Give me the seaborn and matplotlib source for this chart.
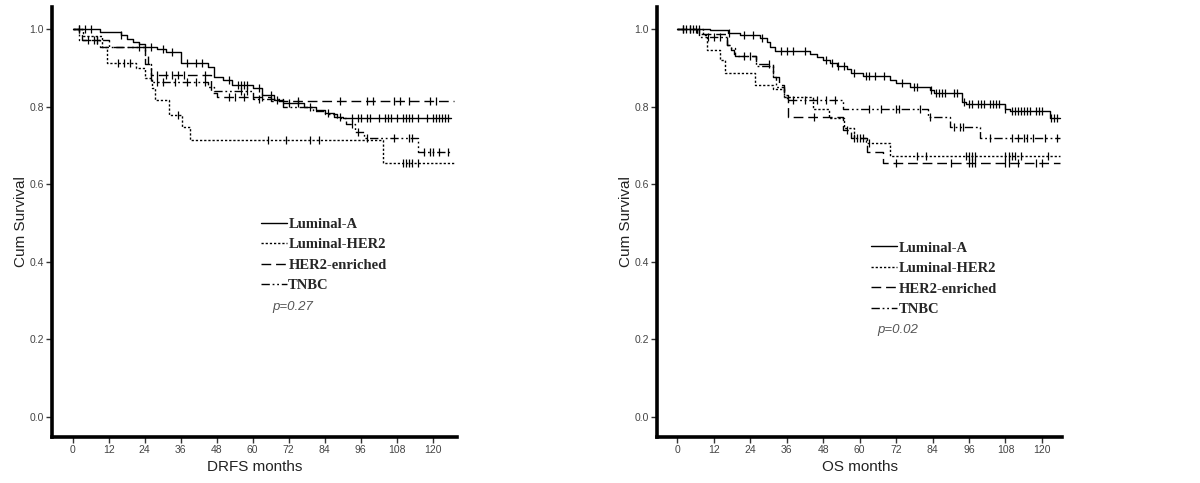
import numpy as np
import pandas as pd
import matplotlib
matplotlib.use("Agg")
import matplotlib.pyplot as plt
import seaborn as sns
from matplotlib.lines import Line2D

groups = ["Luminal-A", "Luminal-HER2", "HER2-enriched", "TNBC"]

# ---- DRFS (left panel): step times, survival after each step, censor times
drfs_lumA_t = [0, 9, 16, 18, 20, 22, 24, 28, 31, 36, 45, 47, 50, 53, 60, 63, 67, 70, 77, 81, 84, 87, 90]
drfs_lumA_s = [1.0, 0.992, 0.985, 0.975, 0.968, 0.962, 0.955, 0.948, 0.94, 0.912, 0.903, 0.877, 0.869,
               0.856, 0.847, 0.83, 0.817, 0.809, 0.80, 0.791, 0.783, 0.774, 0.770]
drfs_lumA_c = [2, 4, 6, 16, 26, 30, 33, 38, 41, 43, 52, 55, 56, 57, 58, 62, 66, 68, 72, 75, 79, 85, 89, 93,
               95, 96, 98, 99, 102, 104, 105, 106, 108, 110, 111, 112, 113, 115, 118, 120, 121, 122, 123, 124, 125]

drfs_lumH_t = [0, 3.5, 9.7, 11.3, 21, 24, 26.4, 27.4, 32, 36.3, 39, 103.4]
drfs_lumH_s = [1.0, 0.981, 0.955, 0.912, 0.90, 0.874, 0.847, 0.817, 0.779, 0.748, 0.714, 0.654]
drfs_lumH_c = [15, 17, 19, 35, 65, 71, 79, 82, 110, 111, 112, 113, 115]

drfs_her2_t = [0, 3, 9, 24, 25, 26, 46, 48, 66]
drfs_her2_s = [1.0, 0.972, 0.955, 0.93, 0.91, 0.882, 0.835, 0.826, 0.815]
drfs_her2_c = [2, 8, 22, 28, 31, 33, 35, 37, 44, 52, 54, 57, 63, 75, 89, 98, 100, 107, 109, 112, 119, 121]

drfs_tnbc_t = [0, 2, 12, 24, 26, 45, 47, 60, 70, 80, 84, 88, 91, 94, 97, 115]
drfs_tnbc_s = [1.0, 0.972, 0.955, 0.91, 0.864, 0.85, 0.84, 0.82, 0.80, 0.79, 0.78, 0.77, 0.755, 0.735,
               0.72, 0.682]
drfs_tnbc_c = [5, 7, 8, 28, 30, 34, 38, 41, 44, 56, 58, 62, 93, 95, 98, 107, 112, 113, 117, 119, 120, 122, 125]

drfs_end = [126, 127, 127, 126]

# ---- OS (right panel)
os_lumA_t = [0, 10.8, 16.8, 20.5, 27.2, 29.4, 30.5, 32.2, 43.7, 45.9, 48, 50.2, 52.5, 55.8, 57, 61.2, 70,
             72, 76.6, 83.2, 84.5, 93.6, 95, 107.9, 109.5, 122.7]
os_lumA_s = [1.0, 0.997, 0.99, 0.984, 0.976, 0.967, 0.954, 0.944, 0.937, 0.929, 0.92, 0.913, 0.905, 0.896,
             0.887, 0.879, 0.868, 0.860, 0.851, 0.843, 0.834, 0.8125, 0.806, 0.795, 0.79, 0.77]
os_lumA_c = [2, 4, 6, 17, 22, 25, 28, 34, 36, 38, 42, 49, 51, 53, 55, 58, 62, 63, 65, 68, 74, 78, 79, 83.5,
             85, 86, 87, 88, 91, 92, 94.5, 96, 97, 99, 100, 101, 103, 104, 105, 106, 108, 110, 111, 112,
             113, 114, 115, 116, 118, 119, 120, 123, 124, 125]

os_lumH_t = [0, 8.6, 9.7, 14, 15.7, 25.6, 31.5, 35, 44.7, 50, 55, 58, 62, 70]
os_lumH_s = [1.0, 0.985, 0.946, 0.92, 0.886, 0.856, 0.845, 0.826, 0.795, 0.77, 0.745, 0.72, 0.705, 0.672]
os_lumH_c = [7, 60, 63, 79, 82, 95, 96, 97, 98, 108, 109, 110, 111, 113, 122]

os_her2_t = [0, 6.4, 16.3, 17.5, 18.5, 19.8, 26, 31.6, 33.3, 35, 36.5, 54.6, 57, 62.4, 67.8]
os_her2_s = [1.0, 0.987, 0.96, 0.945, 0.937, 0.93, 0.911, 0.877, 0.856, 0.83, 0.774, 0.74, 0.718, 0.684, 0.654]
os_her2_c = [2, 4, 5, 22, 24, 30, 45, 56, 58, 59, 61, 72, 90, 96, 97, 98, 108, 109, 112, 118, 120]

os_tnbc_t = [0, 7, 16.3, 17.5, 19, 26, 31.6, 32.5, 35, 36, 54.6, 82.5, 89.8, 99.7]
os_tnbc_s = [1.0, 0.98, 0.96, 0.95, 0.93, 0.905, 0.877, 0.851, 0.826, 0.817, 0.795, 0.774, 0.748, 0.718]
os_tnbc_c = [3, 10, 12, 14, 38, 42, 46, 49, 52, 63, 67, 72, 73, 80, 83, 91, 93, 94, 103, 110, 112, 114,
             115, 117, 121, 125]

os_end = [126, 126, 126, 126]

p_drfs = "p=0.27"
p_os = "p=0.02"
x_ticks = list(range(0, 121, 12))
y_ticks = [0.0, 0.2, 0.4, 0.6, 0.8, 1.0]

styles = {
    "Luminal-A": "-",
    "Luminal-HER2": (0, (1.6, 1.4)),
    "HER2-enriched": (0, (7, 3.5)),
    "TNBC": (0, (6, 2, 1.3, 2, 1.3, 2)),
}

sns.set_style("white")
plt.rcParams["font.family"] = ["Liberation Sans", "DejaVu Sans"]

fig = plt.figure(figsize=(12, 4.83), dpi=100)
ax1 = fig.add_axes([0.0433, 0.0952, 0.3375, 0.8903])
ax2 = fig.add_axes([0.5475, 0.0952, 0.3375, 0.8903])


def draw_km(ax, t, s, c, end, name):
    t = list(t) + [end]
    s = list(s) + [s[-1]]
    df = pd.DataFrame({"time": t, "surv": s})
    sns.lineplot(data=df, x="time", y="surv", drawstyle="steps-post", color="black",
                 linewidth=1.0, linestyle=styles[name], ax=ax, sort=False, estimator=None)
    idx = np.searchsorted(t, c, side="right") - 1
    cy = np.array(s)[idx]
    ax.plot(c, cy, ls="none", marker="|", ms=5.5, mew=0.9, color="black")


def style_axes(ax, xlabel, xlim, pval, leg_anchor, p_pos):
    ax.set_xlim(*xlim)
    ax.set_ylim(-0.052, 1.057)
    ax.set_xticks(x_ticks)
    ax.set_yticks(y_ticks)
    ax.set_yticklabels([f"{v:.1f}" for v in y_ticks])
    ax.tick_params(axis="both", direction="out", length=4, width=1, color="#333333",
                   labelsize=7.5, labelcolor="#444444", pad=2, left=True, bottom=True)
    for side in ["top", "right"]:
        ax.spines[side].set_visible(False)
    for side in ["left", "bottom"]:
        ax.spines[side].set_linewidth(2.6)
        ax.spines[side].set_color("black")
    ax.set_xlabel(xlabel, fontsize=11, color="#222222", labelpad=3)
    ax.set_ylabel("Cum Survival", fontsize=11, color="#222222", labelpad=1)
    handles = [Line2D([0], [0], color="black", lw=1.0, linestyle=styles[g]) for g in groups]
    ax.legend(handles, groups, loc="upper left", bbox_to_anchor=leg_anchor, frameon=False,
              handlelength=1.8, handletextpad=0.1, labelspacing=0.5, borderpad=0,
              prop={"family": "Liberation Serif", "weight": "bold", "size": 10.5})
    ax.text(p_pos[0], p_pos[1], pval, transform=ax.transAxes, fontsize=9.5, style="italic",
            color="#555555", ha="left", va="center")


drfs_sets = [(drfs_lumA_t, drfs_lumA_s, drfs_lumA_c), (drfs_lumH_t, drfs_lumH_s, drfs_lumH_c),
             (drfs_her2_t, drfs_her2_s, drfs_her2_c), (drfs_tnbc_t, drfs_tnbc_s, drfs_tnbc_c)]
os_sets = [(os_lumA_t, os_lumA_s, os_lumA_c), (os_lumH_t, os_lumH_s, os_lumH_c),
           (os_her2_t, os_her2_s, os_her2_c), (os_tnbc_t, os_tnbc_s, os_tnbc_c)]

for g, (t, s, c), e in zip(groups, drfs_sets, drfs_end):
    draw_km(ax1, t, s, c, e, g)
for g, (t, s, c), e in zip(groups, os_sets, os_end):
    draw_km(ax2, t, s, c, e, g)

style_axes(ax1, "DRFS months", (-6.9, 128.1), p_drfs, (0.497, 0.527), (0.545, 0.302))
style_axes(ax2, "OS months", (-6.7, 126.6), p_os, (0.51, 0.472), (0.545, 0.25))

fig.savefig("out.png", dpi=100)
